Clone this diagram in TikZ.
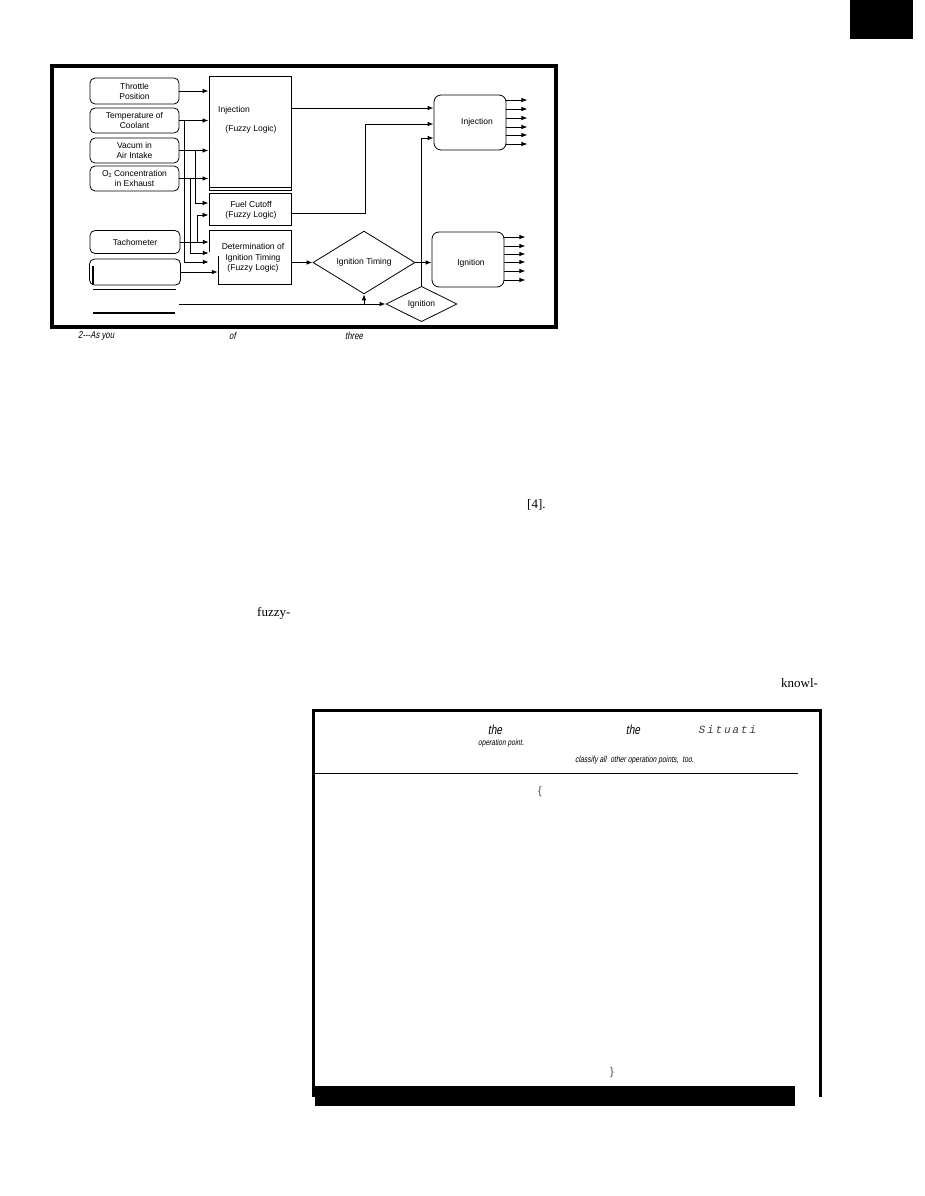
\documentclass[tikz,border=0pt]{standalone}
\usepackage{fontspec}
\setmainfont{Liberation Sans}
\newfontfamily\serifbody{Liberation Serif}
\newfontfamily\condit[FakeStretch=0.78,FakeSlant=0.18]{Liberation Sans}
\newfontfamily\monoit[FakeSlant=0.2]{Liberation Mono}
\usetikzlibrary{shapes.geometric,arrows.meta}
\begin{document}
\begin{tikzpicture}[x=1pt,y=-1pt,
  lbl/.style={font=\fontsize{8.5}{10}\selectfont, align=center, inner sep=0pt},
  inbox/.style={draw, line width=0.8pt, rounded corners=5pt, inner sep=0pt, align=center,
     font=\fontsize{8.5}{10}\selectfont},
  fbox/.style={draw, line width=1pt, inner sep=0pt},
  obox/.style={draw, line width=0.8pt, rounded corners=7pt, inner sep=0pt},
  dia/.style={draw, diamond, line width=0.8pt, inner sep=0pt, font=\fontsize{8.5}{10}\selectfont},
  arr/.style={-{Latex[length=6pt,width=4.6pt]}, line width=0.9pt},
  ln/.style={line width=0.9pt},
  captxt/.style={font=\condit\fontsize{10}{11}\selectfont, inner sep=0pt, anchor=west},
  bodytxt/.style={font=\serifbody\fontsize{13}{14}\selectfont, inner sep=0pt, anchor=west}]
\useasboundingbox[fill=white] (0,0) rectangle (924,1196);

% corner block
\fill[black] (850,0) rectangle (913,39);

% outer frame of figure
\draw[line width=3.5pt] (52,66) rectangle (556,327);

% input boxes
\node[inbox, minimum width=89pt, minimum height=26pt] (thr) at (134.5,91) {Throttle\\Position};
\node[inbox, minimum width=89pt, minimum height=25pt] (tmp) at (134.5,120.5) {Temperature of\\Coolant};
\node[inbox, minimum width=89pt, minimum height=25pt] (vac) at (134.5,150.5) {Vacum in\\Air Intake};
\node[inbox, minimum width=89pt, minimum height=25pt] (o2) at (134.5,178.5) {O{\fontsize{5.5}{6}\selectfont\raisebox{-1pt}{2}} Concentration\\in Exhaust};
\node[inbox, minimum width=90pt, minimum height=23pt] (tach) at (135,242) {Tachometer};
\node[inbox, minimum width=91pt, minimum height=26pt] (blank) at (135,272) {};
\draw[line width=2pt] (93,266) -- (93,285);
\draw[ln] (93,289) -- (176,289);
\draw[line width=2pt] (93,313) -- (175,313);

% fuzzy logic blocks
\node[fbox, minimum width=82pt, minimum height=113pt] (inj) at (250,133.5) {};
\draw[ln] (209,187) -- (291,187);
\node[lbl, anchor=west] (injt) at (218,110) {Injection};
\node[lbl] (injf) at (251,129) {(Fuzzy Logic)};
\node[fbox, minimum width=82pt, minimum height=32pt] (cut) at (250,209) {};
\node[lbl] (cutt) at (251,210) {Fuel Cutoff\\(Fuzzy Logic)};
\node[inner sep=0pt, minimum width=82pt, minimum height=54pt] (det) at (250,257) {};
\draw[line width=1pt] (209,252) -- (209,230) -- (291,230) -- (291,284) -- (218,284) -- (218,256);
\node[lbl, font=\fontsize{8.5}{10.5}\selectfont] (dett) at (253,258) {Determination of\\Ignition Timing\\(Fuzzy Logic)};

% output boxes
\node[obox, minimum width=72pt, minimum height=55pt] (iout) at (470,122.5) {};
\node[lbl] (ioutt) at (477,122) {Injection};
\node[obox, minimum width=72pt, minimum height=55pt] (ig) at (468,259.5) {};
\node[lbl] (igtt) at (471,263) {Ignition};

% diamonds
\node[dia, minimum width=102pt, minimum height=35pt] (igt) at (364,262.5) {Ignition Timing};
\node[dia, minimum width=71pt, minimum height=25pt] (igd) at (421.5,304) {Ignition};

% input connections
\draw[arr] (thr.east) -- (thr.east -| inj.west);
\draw[arr] (tmp.east) -- (tmp.east -| inj.west);
\draw[arr] (vac.east) -- (vac.east -| inj.west);
\draw[arr] (o2.east) -- (o2.east -| inj.west);
\draw[arr] ([xshift=16pt]vac.east) |- ([yshift=6pt]cut.west);
\draw[arr] ([xshift=17pt]tach.east) |- ([yshift=-6pt]cut.west);
\draw[arr] (tach.east) -- (tach.east -| det.west);
\draw[arr] ([xshift=11pt]o2.east) |- ([yshift=4pt]det.west);
\draw[arr] ([xshift=5pt]tmp.east) |- ([yshift=-5pt]det.west);
\draw[arr] (blank.east) -- ([xshift=9pt]det.west |- blank.east);

% block outputs
\draw[arr] ([yshift=14.5pt]iout.west -| inj.east) -- ([yshift=14.5pt]iout.west);
\draw[arr] ([yshift=-4pt]cut.east) -- ++(74,0) |- ([yshift=-1.5pt]iout.west);
\draw[arr] (det.east |- igt.west) -- (igt.west);
\draw[arr] (igt.east) -- (igt.east -| ig.west);
\coordinate (src) at (179,304);
\draw[arr] (src) -- (igd.west);
\draw[arr] (igt.south |- src) -- (igt.south);
\draw[arr] (igd.north) |- ([yshift=-15.5pt]iout.west);

% output arrows
\foreach \d in {22.5,13.5,4.5,-4.5,-12.5,-21.5}
  \draw[arr] ([yshift=\d pt]iout.east) -- ++(21,0);
\foreach \d in {22.5,13.5,5.5,-2.5,-11.5,-20.5}
  \draw[arr] ([yshift=\d pt]ig.east) -- ++(21,0);

% caption fragments
\node[captxt] (c1) at (78,336) {2---As you};
\node[captxt] (c2) at (229,336) {of};
\node[captxt] (c3) at (345,336) {three};

% body text fragments
\node[bodytxt] (b1) at (527,505) {[4].};
\node[bodytxt] (b2) at (257,613) {fuzzy-};
\node[bodytxt] (b3) at (781,683) {knowl-};

% lower frame
\draw[line width=3pt] (313,1097) -- (313,710) -- (820,710) -- (820,1097);
\draw[line width=1pt] (315,773) -- (798,773);
\fill[black] (315,1086) rectangle (795,1106);
\node[inner sep=0pt, font=\condit\fontsize{13}{13}\selectfont] (t1) at (495,730) {the};
\node[inner sep=0pt, font=\condit\fontsize{8.5}{9}\selectfont] (t2) at (501,743) {operation point.};
\node[inner sep=0pt, font=\condit\fontsize{13}{13}\selectfont] (t3) at (633,730) {the};
\node[inner sep=0pt, font=\monoit\fontsize{11}{12}\selectfont, text=black!75, anchor=west] (t4) at (698,730) {S\,i\,t\,u\,a\,t\,i};
\node[inner sep=0pt, font=\condit\fontsize{8.8}{9}\selectfont, anchor=west] (t5) at (575,760) {classify all\ \ other operation points,\ \ too.};
\node[inner sep=0pt, font=\fontsize{11}{12}\selectfont, text=black!70] (t6) at (540,792) {\{};
\node[inner sep=0pt, font=\fontsize{11}{12}\selectfont, text=black!70] (t7) at (612,1073) {\}};
\end{tikzpicture}
\end{document}
